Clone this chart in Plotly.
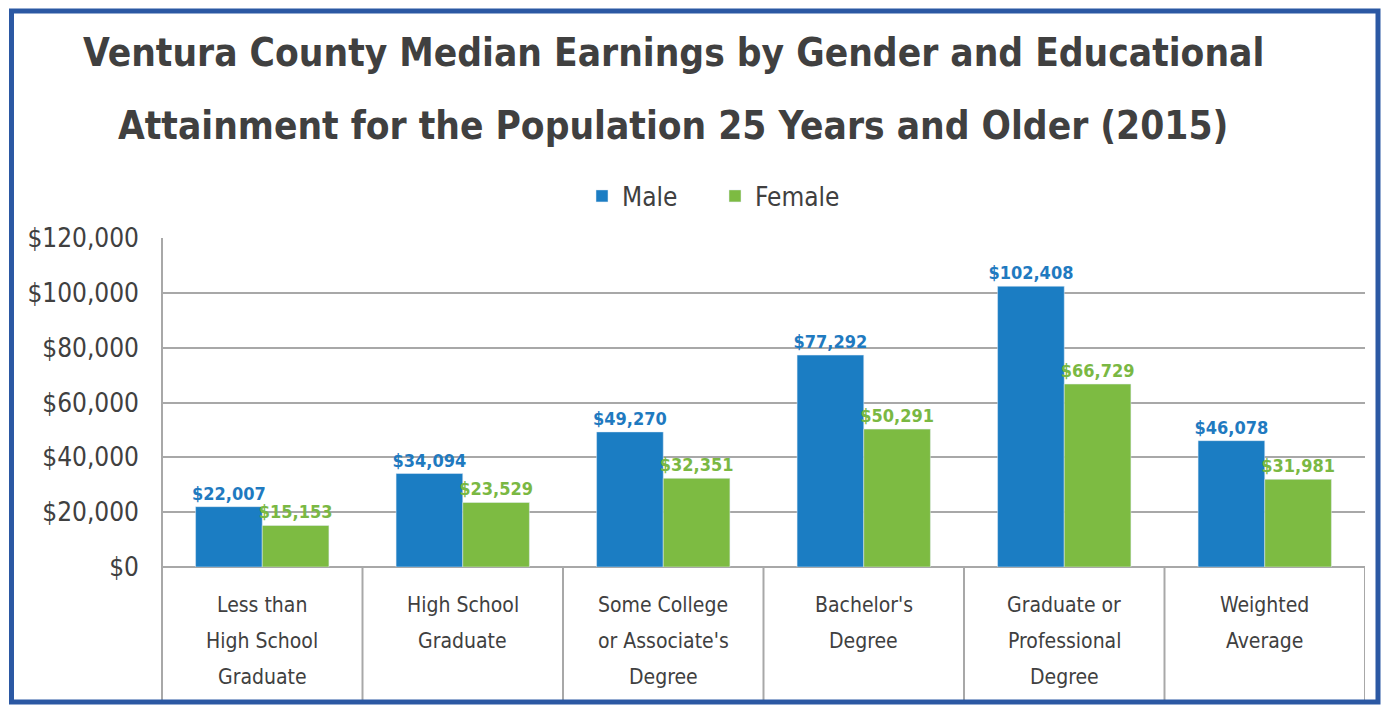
import plotly.graph_objects as go

categories = ["Less than High School Graduate", "High School Graduate",
              "Some College or Associate's Degree", "Bachelor's Degree",
              "Graduate or Professional Degree", "Weighted Average"]
category_lines = [["Less than", "High School", "Graduate"],
                  ["High School", "Graduate"],
                  ["Some College", "or Associate's", "Degree"],
                  ["Bachelor's", "Degree"],
                  ["Graduate or", "Professional", "Degree"],
                  ["Weighted", "Average"]]
male = [22007, 34094, 49270, 77292, 102408, 46078]
female = [15153, 23529, 32351, 50291, 66729, 31981]
y_ticks = [0, 20000, 40000, 60000, 80000, 100000, 120000]
y_tick_labels = [f"${v:,}" for v in y_ticks]

BLUE = "#1b7dc3"
GREEN = "#7dbb42"
GRID = "#a8a8a8"
TEXT = "#404040"
COND = "DejaVu Sans Condensed, DejaVu Sans, sans-serif"

W, H = 1385, 708
L, R, T, B = 162, 20, 238, 141
pw, ph = W - L - R, H - T - B

def px_x(px):
    return (px - L) / pw

def px_y(py):
    return (H - B - py) / ph

fig = go.Figure()
fig.add_trace(go.Bar(
    x=categories, y=male, name="Male", marker_color=BLUE,
    texttemplate="$%{y:,}", textposition="outside", constraintext="none",
    textfont=dict(family=COND, size=18, color="#1f7ac0", weight="bold"),
    cliponaxis=False))
fig.add_trace(go.Bar(
    x=categories, y=female, name="Female", marker_color=GREEN,
    texttemplate="$%{y:,}", textposition="outside", constraintext="none",
    textfont=dict(family=COND, size=18, color="#7ab843", weight="bold"),
    cliponaxis=False))

annotations = []
for line, py in [("Ventura County Median Earnings by Gender and Educational", 52),
                 ("Attainment for the Population 25 Years and Older (2015)", 125)]:
    annotations.append(dict(text=line, xref="paper", yref="paper",
                            x=px_x(673), y=px_y(py), xanchor="center", yanchor="middle",
                            showarrow=False,
                            font=dict(family=COND, size=38.5, color=TEXT, weight="bold")))
for i, lines in enumerate(category_lines):
    for j, ln in enumerate(lines):
        annotations.append(dict(text=ln, xref="x", yref="paper", x=i, y=0,
                                xanchor="center", yanchor="middle",
                                yshift=-(38 + 36 * j), showarrow=False,
                                font=dict(family=COND, size=21, color=TEXT)))

shapes = []
for k in range(len(categories) + 1):
    shapes.append(dict(type="line", xref="x", yref="paper",
                       x0=k - 0.5, x1=k - 0.5, y0=px_y(700), y1=0,
                       line=dict(color=GRID, width=2)))
shapes.append(dict(type="line", xref="paper", yref="paper", x0=0, x1=0,
                   y0=px_y(700), y1=1, line=dict(color=GRID, width=2)))
shapes.append(dict(type="rect", xref="paper", yref="paper",
                   x0=px_x(11.5), x1=px_x(1378), y0=px_y(702), y1=px_y(11),
                   line=dict(color="#2b58a3", width=5), fillcolor="rgba(0,0,0,0)"))

fig.update_layout(
    width=W, height=H,
    margin=dict(l=L, r=R, t=T, b=B, autoexpand=False),
    paper_bgcolor="white", plot_bgcolor="white",
    barmode="group", bargap=0.335, bargroupgap=0,
    showlegend=True,
    legend=dict(orientation="h", x=px_x(715), y=px_y(196), xanchor="center", yanchor="middle",
                font=dict(family=COND, size=26, color=TEXT),
                traceorder="normal", itemwidth=30, entrywidth=88),
    annotations=annotations, shapes=shapes,
    xaxis=dict(showticklabels=False, showgrid=False, showline=False, zeroline=False,
               range=[-0.5, len(categories) - 0.5]),
    yaxis=dict(range=[0, 120000], tickvals=y_ticks, ticktext=y_tick_labels,
               showgrid=True, gridcolor=GRID, gridwidth=2, zeroline=True,
               zerolinecolor=GRID, zerolinewidth=2, showline=False,
               ticklabelstandoff=22,
               tickfont=dict(family=COND, size=26, color=TEXT)),
)

fig.write_html("out.html", config={"displayModeBar": False},
               post_script="document.body.style.margin='0';document.body.style.overflow='hidden';")
